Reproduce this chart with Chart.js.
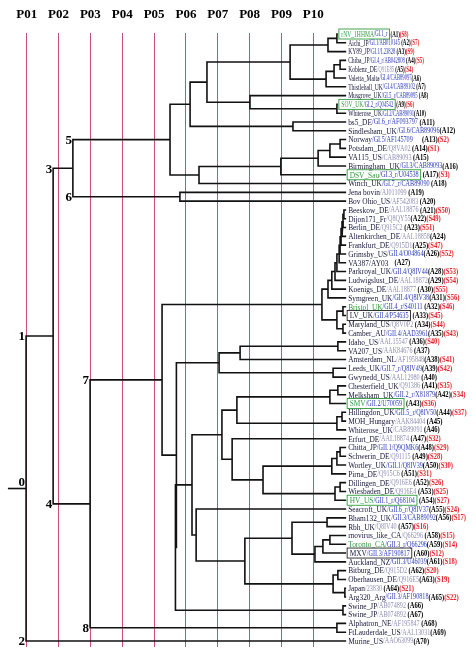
<!DOCTYPE html>
<html>
<head>
<meta charset="utf-8">
<script src="https://cdn.jsdelivr.net/npm/chart.js@4.4.0/dist/chart.umd.min.js"></script>
<style>html,body{margin:0;padding:0;background:#fff}</style>
</head>
<body>
<canvas id="tree" width="476" height="655"></canvas>
<script>
// column guides at the top
const pTicks = [1, 2, 3, 4, 5, 6, 7, 8, 9, 10];
const pLabels = ['P01', 'P02', 'P03', 'P04', 'P05', 'P06', 'P07', 'P08', 'P09', 'P10'];

// leaves A1..A70, top to bottom
const leafName = ['rNV_1HHMA', 'Aichi_JP', 'KY89_JP', 'Chiba_JP', 'Koblenz_DE', 'Valetta_Malta', 'Thistlehall_UK',
  'Musgrove_UK', 'SOV_UK', 'Whiterose_UK', 'bs5_DE', 'Sindlesham_UK', 'Norway', 'Potsdam_DE', 'VA115_US',
  'Birmingham_UK', 'DSV_Sau', 'Winch_UK', 'Jena bovin', 'Bov Ohio_US', 'Beeskow_DE', 'Dijon171_Fr', 'Berlin_DE',
  'Altenkirchen_DE', 'Frankfurt_DE', 'Grimsby_US', 'VA387/AY03', 'Parkroyal_UK', 'Ludwigslust_DE', 'Koenigs_DE',
  'Symgreen_UK', 'Bristol_UK', 'LV_UK', 'Maryland_US', 'Camber_AU', 'Idaho_US', 'VA207_US', 'Amsterdam_NL',
  'Leeds_UK', 'Gwynedd_US', 'Chesterfield_UK', 'Melksham_UK', 'SMV', 'Hillingdon_UK', 'MOH_Hungary',
  'Whiterose_UK', 'Erfurt_DE', 'Chitta_JP', 'Schwerin_DE', 'Wortley_UK', 'Pirna_DE', 'Dillingen_DE',
  'Wiesbaden_DE', 'HV_US', 'Seacroft_UK', 'Bham132_UK', 'Rbh_UK', 'rnovirus_like_CA', 'Toronto_CA', 'MXV',
  'Auckland_NZ', 'Bitburg_DE', 'Oberhausen_DE', 'Japan', 'Arg320_Arg', 'Swine_JP', 'Swine_JP', 'Alphatron_NE',
  'FtLauderdale_US', 'Murine_US'];
const leafAcc = ['/GI.1_r ', '/GI.1/AB010145 ', '/GI.1/L23828 ', '/GI.4_r/AB042808 ', '/Q91E85 ', '/GI.4/CAB89097',
  '/GI.4/CAB89102 ', '/GI.5_r/CAB89095 ', '/GI.2_r/Q04542 ', '/GI.2/CAB89091', '/GI.6_r/AF093797 ', '/GI.6/CAB89096',
  '/GI.5/AF145709      ', '/Q8VA02 ', '/CAB89093 ', '/GI.3/CAB89093', '/GI.3_r/U04538 ', '/GI.7_r/CAB89090 ',
  '/AJ011099 ', '/AF542083 ', '/AAL18876 ', '/Q8QY55', '/Q915C2 ', '/AAL18858', '/Q915D1', '/GII.4/O04864', '    ',
  '/GII.4/Q8IV44', '/AAL18872', '/AAL18877 ', '/GII.4/Q8IV38', '/GII.4_r/S40111 ', '/GII.4/P54635 ', '/Q8V0P2 ',
  '/GII.4/AAD3961', '/AAL15547 ', '/AAK84676 ', '/AF195848', '/GII.7_r/Q8IV49', '/AAL12980 ', '/Q91386 ',
  '/GII.2_r/X81879', '/GII.2/U70059 ', '/GII.5_r/Q8IV50', '/AAK84404 ', '/CAB89091 ', '/AAL18874 ', '/GII.1/Q9QMK6',
  '/Q91115 ', '/GII.1/Q8IV39', '/Q915C6 ', '/Q916E6 ', '/Q916E4 ', '/GII.1_r/Q68104 ', '/GII.6_r/Q8IV37',
  '/GII.3/CAB89092', '/Q8IV40 ', '/Q66296 ', '/GII.3_r/Q66296', '/GII.3/AF190817 ', '/GII.3/U46039', '/Q915D2 ',
  '/Q916E5', '/23830 ', '/GII.3/AF190818', '/AB074892 ', '/AB074892 ', '/AF195847 ', '/AAL13031', '/AAO63099'];
// structure numbers (S..), 0 = none
const leafS = [8, 7, 9, 5, 4, 0, 0, 0, 6, 0, 0, 0, 2, 1, 0, 0, 3, 0, 0, 0, 50, 49, 51, 0, 47, 52, 0, 53, 54, 55,
  56, 46, 45, 44, 43, 40, 0, 41, 42, 0, 35, 34, 36, 37, 0, 0, 32, 29, 28, 30, 31, 26, 25, 27, 24, 17, 16, 15, 14, 12,
  18, 20, 19, 21, 22, 0, 0, 0, 0, 0];
// leaf tip position on the distance axis
const leafTip = [10.77, 11.03, 11.03, 11.03, 11.03, 11.03, 11.03, 11.03, 10.77, 11.03,
  11.03, 11.03, 11.03, 11.03, 11.03, 11.03, 11.03, 11.03, 11.03, 11.03,
  11.03, 11.03, 11.03, 11.03, 11.03, 11.03, 11.03, 11.03, 11.03, 11.03,
  11.03, 11.03, 11.03, 11.03, 11.03, 11.03, 11.03, 11.03, 11.03, 11.03,
  11.03, 11.03, 11.03, 11.03, 11.03, 11.03, 11.03, 11.03, 11.03, 11.03,
  11.03, 11.03, 11.03, 11.03, 11.03, 11.03, 11.03, 11.03, 11.03, 11.03,
  11.03, 11.03, 11.03, 11.03, 11.03, 11.03, 11.03, 11.03, 11.03, 11.03];

// clades: [id, node position, children, node number]
const clades = [
  ['g11', 10.74, ['A1', 'A2']], ['g1', 10.46, ['g11', 'A3']],
  ['g41', 10.84, ['A4', 'A5']], ['g42', 10.65, ['g41', 'A6']], ['g4', 10.40, ['g42', 'A7']],
  ['g14', 9.27, ['g1', 'g4']], ['g2', 10.74, ['A9', 'A10']], ['g52', 8.01, ['A8', 'g2']],
  ['gA', 6.66, ['g14', 'g52']], ['g6', 9.36, ['A11', 'A12']], ['gB', 6.13, ['gA', 'g6']],
  ['g31', 10.84, ['A13', 'A14']], ['g32', 10.52, ['g31', 'A15']], ['g33', 10.15, ['g32', 'A16']],
  ['g34', 8.98, ['g33', 'A17']], ['g35', 6.41, ['g34', 'A18']],
  ['n5', 5.50, ['gB', 'g35'], '5'], ['n6', 5.81, ['A19', 'A20'], '6'], ['n3', 2.45, ['n5', 'n6'], '3'],
  ['h22', 10.96, ['A21', 'A22']], ['h23', 10.93, ['h22', 'A23']], ['h24', 10.90, ['h23', 'A24']],
  ['h25', 10.87, ['h24', 'A25']], ['h26', 10.84, ['h25', 'A26']], ['h27', 10.81, ['h26', 'A27']],
  ['h28', 10.74, ['h27', 'A28']], ['h29', 10.68, ['h28', 'A29']], ['h30', 10.58, ['h29', 'A30']],
  ['h31', 10.46, ['h30', 'A31']], ['h32', 10.93, ['A32', 'A33']], ['h34', 10.93, ['A34', 'A35']],
  ['h35', 10.74, ['h32', 'h34']], ['h4', 10.27, ['h31', 'h35']],
  ['t1', 10.77, ['A36', 'A37']], ['t2', 7.70, ['t1', 'A38']], ['t3', 10.62, ['A39', 'A40']], ['t4', 7.04, ['t2', 't3']],
  ['k1', 10.77, ['A41', 'A42']], ['k2', 10.52, ['k1', 'A43']], ['k3', 10.90, ['A44', 'A45']],
  ['k4', 10.74, ['k3', 'A46']], ['kW', 7.60, ['k2', 'k4']],
  ['z1', 10.84, ['A48', 'A49']], ['z2', 10.74, ['z1', 'A50']], ['z3', 10.58, ['z2', 'A51']],
  ['z4', 10.84, ['A52', 'A53']], ['z5', 10.68, ['z4', 'A54']], ['zY', 8.42, ['z3', 'z5']],
  ['zX', 7.45, ['A47', 'zY']], ['zU', 7.13, ['kW', 'zX']],
  ['m1', 10.43, ['A56', 'A57']], ['m2', 10.52, ['A58', 'A59']], ['m3', 10.30, ['m2', 'A60']],
  ['m4', 10.05, ['m3', 'A61']], ['m5', 9.33, ['m1', 'm4']], ['m6', 10.77, ['A62', 'A63']],
  ['m7', 10.99, ['A64', 'A65']], ['m8', 10.62, ['m6', 'm7']], ['m9', 7.85, ['m5', 'm8']],
  ['mV', 6.32, ['A55', 'm9']], ['mS', 6.19, ['zU', 'mV']], ['sw', 10.93, ['A66', 'A67']],
  ['qR', 5.67, ['mS', 'sw']], ['qQ', 5.70, ['t4', 'qR']],
  ['n7', 5.25, ['h4', 'qQ'], '7'], ['n8', 10.74, ['A68', 'A69'], '8'], ['n4', 2.99, ['n7', 'n8'], '4'],
  ['n1', 1.83, ['n3', 'n4'], '1'], ['n0', 0.98, ['n1', 'A70'], '0']
];
const leafNumber = { A70: '2' };
const rootStub = 0.41;

const GREEN = '#2f9a3c', BLUE = '#2838b4', GRAY = '#8e8cb4', RED = '#e3222c', INK = '#15153a';
const greenName = [1, 9, 17, 32, 43, 54, 59];
const greenBox = [1, 9, 17, 43, 54];
const blackBox = [33, 60];

// node geometry through the data
const pos = {};
leafName.forEach((n, i) => { pos['A' + (i + 1)] = { x: leafTip[i], y: i + 1 }; });
const parentX = {};
clades.forEach(([id, x, kids]) => {
  const a = pos[kids[0]], b = pos[kids[kids.length - 1]];
  pos[id] = { x: x, y: (a.y + b.y) / 2 };
  kids.forEach(k => { parentX[k] = x; });
});

const datasets = clades.map(([id, x, kids]) => {
  const a = pos[kids[0]], b = pos[kids[1]];
  return {
    data: [{ x: a.x, y: a.y }, { x: x, y: a.y }, { x: x, y: b.y }, { x: b.x, y: b.y }],
    showLine: true, borderColor: '#111', borderWidth: 1.6, pointRadius: 0, clip: false,
    borderJoinStyle: 'miter'
  };
});
const root = pos['n0'];
datasets.push({
  data: [{ x: rootStub, y: root.y }, { x: root.x, y: root.y }],
  showLine: true, borderColor: '#111', borderWidth: 1.6, pointRadius: 0, clip: false
});

const labelPlugin = {
  id: 'treeLabels',
  afterDatasetsDraw(chart) {
    const { ctx, scales: { x, y } } = chart;
    ctx.save();
    ctx.textBaseline = 'middle';
    leafName.forEach((name, i) => {
      const n = i + 1;
      const py = y.getPixelForValue(n);
      const px = x.getPixelForValue(leafTip[i]) + 2;
      const sq = n <= 10 ? 0.62 : 0.82;
      const boxed = greenBox.includes(n) || blackBox.includes(n);
      ctx.save();
      ctx.translate(px + (boxed ? 1.5 : 0), py);
      ctx.scale(sq, 1);
      let cx = 0;
      const part = (txt, font, color) => {
        ctx.font = font; ctx.fillStyle = color;
        ctx.fillText(txt, cx, 0.5);
        cx += ctx.measureText(txt).width;
      };
      part(name, '9px "Liberation Serif"', greenName.includes(n) ? GREEN : INK);
      const acc = leafAcc[i];
      part(acc.trimEnd(), '7.5px "Liberation Serif"', acc.startsWith('/G') ? BLUE : GRAY);
      const boxEnd = cx;
      ctx.font = '7.5px "Liberation Serif"';
      cx += ctx.measureText(acc.slice(acc.trimEnd().length)).width + (boxed ? 3 : 0);
      part('(A' + n + ')', 'bold 8px "Liberation Serif"', '#000');
      if (leafS[i]) part('(S' + leafS[i] + ')', 'bold 8px "Liberation Serif"', RED);
      ctx.restore();
      if (boxed) {
        ctx.strokeStyle = greenBox.includes(n) ? GREEN : '#222';
        ctx.lineWidth = 0.9;
        ctx.strokeRect(px - 1, py - 5, boxEnd * sq + 4.5, 10);
      }
    });
    // node numbers
    ctx.font = 'bold 13px "Liberation Serif"';
    ctx.fillStyle = '#000';
    ctx.textAlign = 'right';
    clades.concat([['A70', 0, [], leafNumber.A70]]).forEach(c => {
      const label = c[3];
      if (!label) return;
      const p = pos[c[0]];
      const py = y.getPixelForValue(p.y);
      if (c[0] === 'n0') {
        ctx.textBaseline = 'bottom';
        ctx.fillText(label, x.getPixelForValue(p.x) - 1, py + 1);
      } else {
        ctx.textBaseline = 'middle';
        ctx.fillText(label, x.getPixelForValue(parentX[c[0]]) - 1, py + 1);
      }
    });
    ctx.restore();
  }
};

new Chart(document.getElementById('tree'), {
  type: 'scatter',
  data: { datasets },
  options: {
    responsive: false,
    animation: false,
    layout: { padding: { top: -3, bottom: 8, left: 0, right: 0 } },
    plugins: { legend: { display: false }, tooltip: { enabled: false } },
    scales: {
      x: {
        type: 'linear', position: 'top', min: 0.1617, max: 15.107,
        afterBuildTicks: axis => { axis.ticks = pTicks.map(v => ({ value: v })); },
        grid: { color: '#cc4f76', lineWidth: 1, drawTicks: false, tickLength: 0 },
        border: { display: false },
        ticks: {
          autoSkip: false, maxRotation: 0, padding: 10, color: '#000',
          font: { family: 'Liberation Serif', size: 13, weight: 'bold' },
          callback: v => pLabels[pTicks.indexOf(v)]
        }
      },
      y: { type: 'linear', display: false, reverse: true, min: 0.841, max: 70.68 }
    }
  },
  plugins: [labelPlugin]
});
</script>
</body>
</html>
